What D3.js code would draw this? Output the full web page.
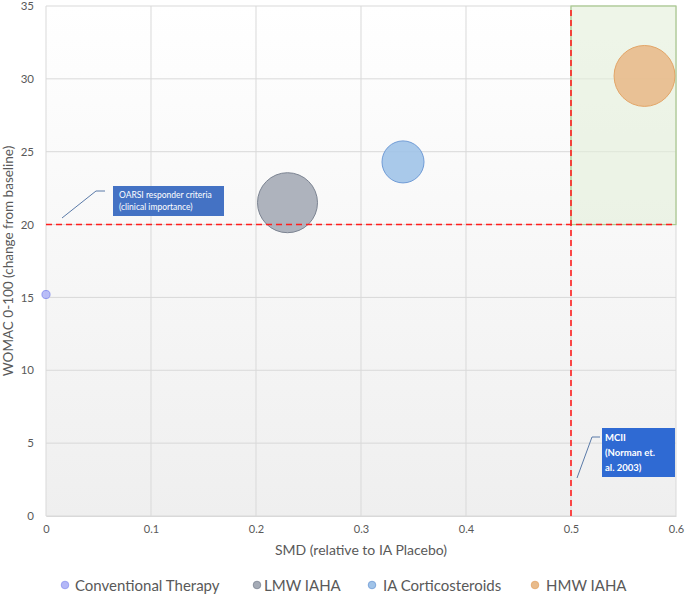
<!DOCTYPE html>
<html><head><meta charset="utf-8">
<script src="https://cdn.jsdelivr.net/npm/d3@7"></script>
<style>
body{margin:0;background:#fff;}
text{font-family:Lato, "Open Sans", sans-serif;}
</style></head>
<body><svg id="c" width="685" height="595"></svg>
<script>
const series = ["Conventional Therapy","LMW IAHA","IA Corticosteroids","HMW IAHA"];
const smd = [0, 0.23, 0.34, 0.57];
const womac = [15.2, 21.5, 24.3, 30.2];
const bubbleSize = [1.8, 100, 49, 103];
const fills = ["#b3b7f7","#a5abb6","#a0c3e8","#e8bb8c"];
const strokes = ["#8e95ef","#7c8492","#6f9bd6","#e3a567"];
const xTicks = [0,0.1,0.2,0.3,0.4,0.5,0.6];
const yTicks = [0,5,10,15,20,25,30,35];
const oarsiThreshold = 20;
const mciiThreshold = 0.5;

const svg = d3.select("#c");
const m = {l:46, r:9, t:6, b:79};
const W = 685, H = 595;
const x = d3.scaleLinear().domain([0,0.6]).range([m.l, W-m.r]);
const y = d3.scaleLinear().domain([0,35]).range([H-m.b, m.t]);
const r = d3.scaleSqrt().domain([0,100]).range([0,30]);

const defs = svg.append("defs");
const g = defs.append("linearGradient").attr("id","bg").attr("x1",0).attr("y1",0).attr("x2",0).attr("y2",1);
g.append("stop").attr("offset","0%").attr("stop-color","#ffffff");
g.append("stop").attr("offset","100%").attr("stop-color","#efefef");

svg.append("rect").attr("x",x(0)).attr("y",y(35)).attr("width",x(0.6)-x(0)).attr("height",y(0)-y(35)).attr("fill","url(#bg)");

// grid
svg.append("g").selectAll("line").data(yTicks).join("line")
  .attr("x1",x(0)).attr("x2",x(0.6)).attr("y1",d=>y(d)).attr("y2",d=>y(d))
  .attr("stroke","#d9d9d9").attr("stroke-width",1);
svg.append("g").selectAll("line").data(xTicks).join("line")
  .attr("y1",y(0)).attr("y2",y(35)).attr("x1",d=>x(d)).attr("x2",d=>x(d))
  .attr("stroke","#d9d9d9").attr("stroke-width",1);

// green box
svg.append("rect").attr("x",x(mciiThreshold)).attr("y",y(35)).attr("width",x(0.6)-x(mciiThreshold)).attr("height",y(oarsiThreshold)-y(35))
  .attr("fill","#e2eed9").attr("fill-opacity",0.6).attr("stroke","#a8c98e").attr("stroke-width",1.2);

// axes tick labels
const xa = d3.axisBottom(x).tickValues(xTicks).tickSize(0).tickPadding(9).tickFormat(d=>d3.format("")(d));
const xg = svg.append("g").attr("transform",`translate(0,${y(0)})`).call(xa);
xg.select(".domain").attr("stroke","#d9d9d9");
xg.selectAll("text").attr("fill","#595959").style("font-size","11px").style("font-family","Lato, sans-serif");
const ya = d3.axisLeft(y).tickValues(yTicks).tickSize(0).tickPadding(12);
const yg = svg.append("g").attr("transform",`translate(${x(0)},0)`).call(ya);
yg.select(".domain").remove();
yg.selectAll("text").attr("fill","#595959").style("font-size","11.5px").style("font-family","Lato, sans-serif");

// bubbles
const data = series.map((s,i)=>({s, x:smd[i], y:womac[i], size:bubbleSize[i], f:fills[i], st:strokes[i]}));
svg.append("g").selectAll("circle").data(data).join("circle")
  .attr("cx",d=>x(d.x)).attr("cy",d=>y(d.y)).attr("r",d=>r(d.size))
  .attr("fill",d=>d.f).attr("fill-opacity",0.9).attr("stroke",d=>d.st).attr("stroke-width",1);

// threshold lines
svg.append("line").attr("x1",x(0)).attr("x2",x(0.6)).attr("y1",y(oarsiThreshold)).attr("y2",y(oarsiThreshold))
  .attr("stroke","#ff1f1f").attr("stroke-width",1.6).attr("stroke-dasharray","6,4");
svg.append("line").attr("x1",x(mciiThreshold)).attr("x2",x(mciiThreshold)).attr("y1",y(0)).attr("y2",y(35))
  .attr("stroke","#ff1f1f").attr("stroke-width",1.6).attr("stroke-dasharray","6,4");

// OARSI annotation
svg.append("polyline").attr("points","62,218 96,191 105,191").attr("fill","none").attr("stroke","#5a7aa8").attr("stroke-width",1);
svg.append("rect").attr("x",113).attr("y",186).attr("width",111).attr("height",30).attr("fill","#4472c4");
const t1 = svg.append("text").attr("x",119).attr("y",198).attr("fill","#fff").style("font-size","8.5px");
t1.append("tspan").attr("x",119).text("OARSI responder criteria");
t1.append("tspan").attr("x",119).attr("dy",12).text("(clinical importance)");

// MCII annotation
svg.append("polyline").attr("points","577,478 592,437 600,437").attr("fill","none").attr("stroke","#5a7aa8").attr("stroke-width",1);
svg.append("rect").attr("x",602).attr("y",428).attr("width",73).attr("height",49).attr("fill","#2f6ad3");
const t2 = svg.append("text").attr("x",605).attr("y",441).attr("fill","#fff").style("font-size","9.5px").style("font-weight","bold");
t2.append("tspan").attr("x",605).text("MCII");
t2.append("tspan").attr("x",605).attr("dy",15).text("(Norman et.");
t2.append("tspan").attr("x",605).attr("dy",15).text("al. 2003)");

// axis titles
svg.append("text").attr("x",361).attr("y",555).attr("text-anchor","middle").attr("fill","#595959").style("font-size","14px").text("SMD (relative to IA Placebo)");
svg.append("text").attr("transform",`translate(13,${(y(0)+y(35))/2}) rotate(-90)`).attr("text-anchor","middle").attr("fill","#595959").style("font-size","13.5px").text("WOMAC 0-100 (change from baseline)");

// legend
const legendCircleX = [65,257,372,535];
const legendTextX = [75,264,383,546];
const lg = svg.append("g").selectAll("g").data(data).join("g");
lg.append("circle").attr("cx",(d,i)=>legendCircleX[i]).attr("cy",585).attr("r",3.8).attr("fill",d=>d.f).attr("stroke",d=>d.st).attr("stroke-width",0.8);
lg.append("text").attr("x",(d,i)=>legendTextX[i]).attr("y",590.5).attr("fill","#595959").style("font-size","15px").text(d=>d.s);
</script></body></html>
